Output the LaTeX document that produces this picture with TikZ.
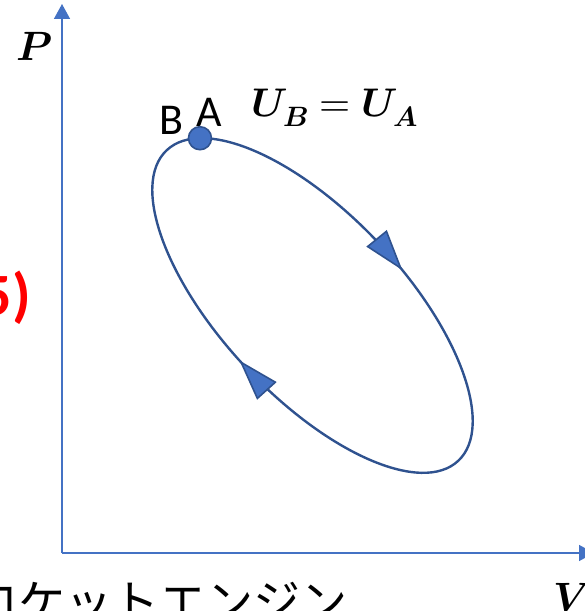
\documentclass[tikz,border=0pt]{standalone}
\usepackage{fontspec}
\usepackage{unicode-math}
\setmainfont{Carlito}
\setmathfont{Latin Modern Math}
\newfontfamily\jpfont{Noto Sans CJK JP}
\usetikzlibrary{arrows.meta,decorations.markings}
\definecolor{pvBlue}{HTML}{4472C4}
\definecolor{pvDark}{HTML}{2F528F}
\definecolor{pvRed}{HTML}{FF0000}
\tikzset{
  pv axis/.style={draw=pvBlue, line width=1.5pt, -{Triangle[length=15pt,width=16pt]}},
  pv cycle/.style={draw=pvDark, line width=2.4pt, postaction={decorate},
    decoration={markings,
      mark=at position 0.214 with {\arrowreversed{Triangle[length=41pt,width=26pt,fill=pvBlue,line width=1.6pt]}},
      mark=at position 0.74 with {\arrowreversed{Triangle[length=41pt,width=26pt,fill=pvBlue,line width=1.6pt]}}}},
  pv dot/.style={circle, draw=pvDark, fill=pvBlue, line width=1.6pt, minimum size=23pt, inner sep=0pt},
  pv label/.style={font=\fontsize{44}{52}\selectfont, inner sep=0pt},
  pv math/.style={font=\fontsize{41}{48}\selectfont, inner sep=0pt},
}

\begin{document}
\begin{tikzpicture}[x=1pt,y=1pt]
  \useasboundingbox (0,0) rectangle (585,611);
  \clip (0,0) rectangle (585,611);
  % axes
  \coordinate (O) at (62,58);
  \coordinate (Ptip) at (62,607);
  \coordinate (Vtip) at (594,58);
  \draw[pv axis] (O) -- (Ptip);
  \draw[pv axis] (O) -- (Vtip);
  \node[pv math, anchor=base] (P) at (34,550) {$\symbfit{P}$};
  \node[pv math, anchor=base west] (V) at (553,-1) {$\symbfit{V}$};
  % cycle
  \begin{scope}[shift={(312.5,305.5)}, rotate=-46.8]
    \draw[pv cycle] (0,0) ellipse [x radius=213, y radius=91];
    \coordinate (top) at (158.1:213 and 91);
  \end{scope}
  \node[pv dot] (A) at ([xshift=-2pt]top) {};
  \node[pv label, anchor=base] (labB) at (171,476) {B};
  \node[pv label, anchor=base] (labA) at (209,484) {A};
  \node[pv math, font=\fontsize{40}{48}\selectfont, anchor=base west] (eq) at (251,494)
    {$\symbfit{U}_{\symbfit{B}}=\symbfit{U}_{\symbfit{A}}$};
  % cut-off texts
  \node[pv label, font=\fontsize{60}{70}\selectfont\bfseries, text=pvRed, anchor=base east] (num) at (31,295) {5)};
  \node[pv label, font=\fontsize{47}{56}\jpfont, anchor=base west] (title) at (-29,-9) {ロケットエンジン};
\end{tikzpicture}
\end{document}
